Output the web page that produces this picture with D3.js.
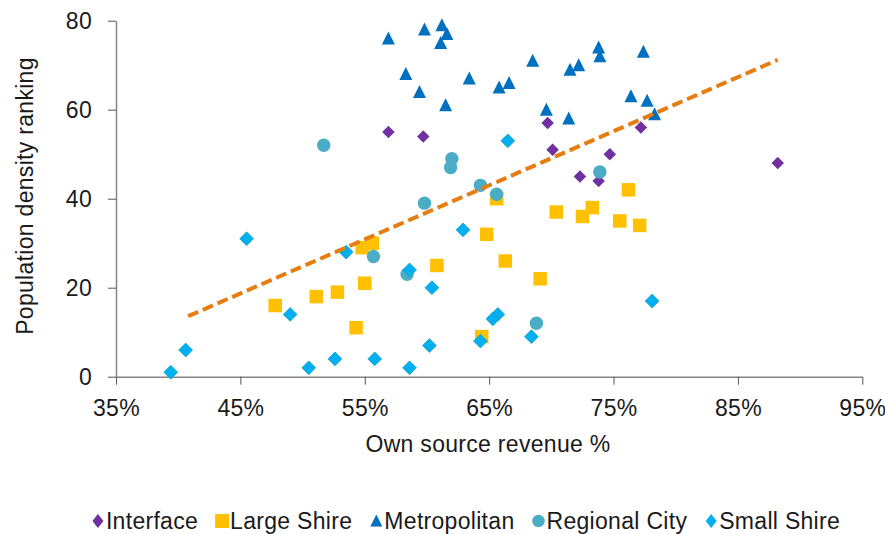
<!DOCTYPE html>
<html>
<head>
<meta charset="utf-8">
<script src="https://cdn.jsdelivr.net/npm/d3@7"></script>
<style>
  html, body { margin: 0; padding: 0; background: #fff; }
  svg { display: block; font-family: "Liberation Sans", Arial, sans-serif; }
</style>
</head>
<body>
<svg id="chart" width="885" height="534"></svg>
<script>
// ---- data ----
const seriesNames = ["Interface", "Large Shire", "Metropolitan", "Regional City", "Small Shire"];
const interfacePts = [[56.9,55],[59.7,54],[69.7,57],[70.1,51],[72.3,45],[73.8,44],[74.7,50],[77.2,56],[88.2,48]];
const largeShirePts = [[76.2,42],[65.6,40],[70.4,37],[72.5,36],[73.3,38],[75.5,35],[77.1,34],[64.8,32],[66.3,26],[60.8,25],[69.1,22],[64.4,9],[55.6,30],[54.8,29],[55.0,21],[52.8,19],[51.1,18],[47.8,16],[54.3,11]];
const metropolitanPts = [[56.9,76],[59.8,78],[61.2,79],[61.6,77],[61.1,75],[58.3,68],[59.4,64],[61.5,61],[63.4,67],[65.8,65],[66.6,66],[68.5,71],[69.6,60],[71.4,58],[71.5,69],[72.2,70],[73.8,74],[73.9,72],[77.4,73],[76.4,63],[77.7,62],[78.3,59]];
const regionalCityPts = [[51.7,52],[62.0,49],[61.9,47],[73.9,46],[64.3,43],[65.6,41],[59.8,39],[55.7,27],[58.4,23],[68.8,12]];
const smallShirePts = [[66.5,53],[45.5,31],[53.5,28],[49.0,14],[40.6,6],[39.4,1],[50.5,2],[52.6,4],[55.8,4],[62.9,33],[58.6,24],[60.4,20],[65.7,14],[65.3,13],[78.1,17],[60.2,7],[64.3,8],[68.4,9],[58.6,2]];
const trendX = [40.8, 88.2];
const trendY = [13.6, 71.2];
const xTicks = [35, 45, 55, 65, 75, 85, 95];
const yTicks = [0, 20, 40, 60, 80];
const xTitle = "Own source revenue %";
const yTitle = "Population density ranking";

// ---- layout ----
const svg = d3.select("#chart");
const plotLeft = 116, plotRight = 862.3, plotTop = 20.7, plotBottom = 376.7;
const x = d3.scaleLinear().domain([35, 95]).range([plotLeft, plotRight]);
const y = d3.scaleLinear().domain([0, 80]).range([plotBottom, plotTop]);
const FONT = 23;
const textColor = "#1a1a1a";
const axisColor = "#858585";

const styles = {
  "Interface":     { color: "#7030A0", shape: "diamond", size: 12.5 },
  "Large Shire":   { color: "#FFC000", shape: "square", size: 13.5 },
  "Metropolitan":  { color: "#0070C0", shape: "triangle", size: 13 },
  "Regional City": { color: "#4BACC6", shape: "circle", size: 13.4 },
  "Small Shire":   { color: "#00B0F0", shape: "diamond", size: 13.8, stroke: "#1a9fc4" }
};

function shapePath(shape, s) {
  const h = s / 2;
  if (shape === "diamond") return `M0,${-h}L${h},0L0,${h}L${-h},0Z`;
  if (shape === "square") return `M${-h},${-h}H${h}V${h}H${-h}Z`;
  if (shape === "triangle") { const th = s * 0.92; return `M0,${-th/2 - 1}L${h},${th/2}L${-h},${th/2}Z`; }
  if (shape === "circle") return `M${h},0A${h},${h} 0 1,1 ${-h},0A${h},${h} 0 1,1 ${h},0Z`;
}

// axes
const xAxis = d3.axisBottom(x).tickValues(xTicks).tickFormat(d => d + "%").tickSize(8).tickSizeOuter(0);
const yAxis = d3.axisLeft(y).tickValues(yTicks).tickSize(8).tickSizeOuter(0);

const gx = svg.append("g").attr("transform", `translate(0,${plotBottom})`).call(xAxis);
const gy = svg.append("g").attr("transform", `translate(${plotLeft},0)`).call(yAxis);
[gx, gy].forEach(g => {
  g.select(".domain").attr("stroke", axisColor).attr("stroke-width", 1.5);
  g.selectAll(".tick line").attr("stroke", "#555").attr("stroke-width", 1);
  g.selectAll(".tick text").attr("fill", textColor).attr("font-size", FONT)
    .attr("font-family", "Liberation Sans, Arial, sans-serif").attr("letter-spacing", 0.3);
});
gx.selectAll(".tick text").attr("y", 39).attr("dy", 0);
gy.selectAll(".tick text").attr("x", -24).attr("dy", "0.35em");

// titles
svg.append("text").attr("x", 488).attr("y", 452).attr("text-anchor", "middle")
  .attr("font-size", FONT).attr("letter-spacing", 0.3).attr("fill", textColor).text(xTitle);
svg.append("text").attr("transform", "translate(33,196) rotate(-90)").attr("text-anchor", "middle")
  .attr("font-size", FONT).attr("letter-spacing", 0.3).attr("fill", textColor).text(yTitle);

// points
const seriesData = {
  "Interface": interfacePts,
  "Large Shire": largeShirePts,
  "Metropolitan": metropolitanPts,
  "Regional City": regionalCityPts,
  "Small Shire": smallShirePts
};
seriesNames.forEach(name => {
  const st = styles[name];
  svg.append("g").selectAll("path").data(seriesData[name]).join("path")
    .attr("transform", d => `translate(${x(d[0])},${y(d[1])})`)
    .attr("d", shapePath(st.shape, st.size))
    .attr("fill", st.color)
    .attr("stroke", st.stroke || "none")
    .attr("stroke-width", st.stroke ? 0.8 : 0);
});

// trendline
svg.append("line")
  .attr("x1", x(trendX[0])).attr("y1", y(trendY[0]))
  .attr("x2", x(trendX[1])).attr("y2", y(trendY[1]))
  .attr("stroke", "#E57D10").attr("stroke-width", 4).attr("stroke-dasharray", "11,5");

// legend
const legend = svg.append("g");
let cx = 0;
const itemGap = 18;
seriesNames.forEach(name => {
  const st = styles[name];
  const g = legend.append("g");
  const ms = st.shape === "square" ? 14 : (st.shape === "triangle" ? 12 : 12.5);
  g.append("path").attr("transform", `translate(${cx + 6},0)`)
    .attr("d", st.shape === "diamond" ? `M0,-7L5.5,0L0,7L-5.5,0Z` : shapePath(st.shape, ms))
    .attr("fill", st.color);
  const t = g.append("text").attr("x", cx + 14).attr("y", 8.3)
    .attr("font-size", FONT).attr("letter-spacing", 0.3).attr("fill", textColor).text(name);
  const w = t.node().getComputedTextLength();
  cx += 14 + w + itemGap;
});
const totalW = cx - itemGap;
legend.attr("transform", `translate(${466 - totalW / 2},521)`);
</script>
</body>
</html>
